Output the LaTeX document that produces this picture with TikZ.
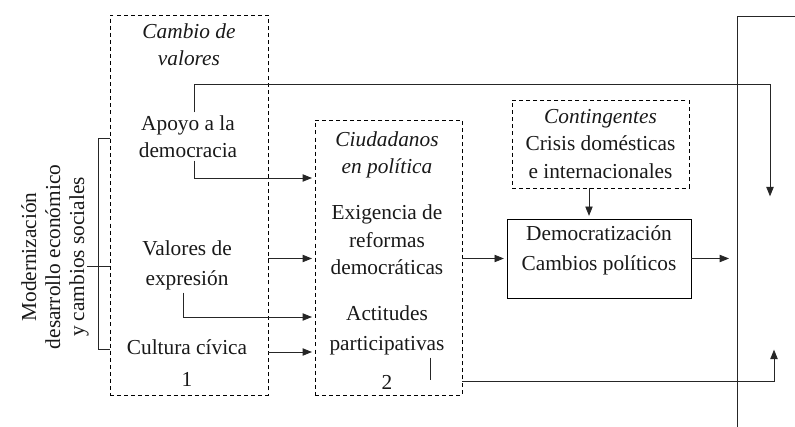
\documentclass[tikz,border=0pt]{standalone}
\usepackage{fontspec}
\setmainfont{Liberation Serif}
\usetikzlibrary{arrows.meta,positioning}

\begin{document}
\begin{tikzpicture}[x=0.75pt,y=0.75pt,yscale=-1,xscale=1,
  txt/.style={align=center,font=\fontsize{16}{20.5}\selectfont,inner sep=2pt,text=black!90},
  dashbox/.style={draw,dash pattern={on 3pt off 2.3pt},line width=0.6pt},
  solidbox/.style={draw,line width=0.7pt},
  conn/.style={line width=0.6pt,color=black!85},
  arr/.style={conn,shorten >=2pt,-{Triangle[length=7pt,width=5.5pt]}}]
\useasboundingbox (0,0) rectangle (795,427);

%Shape: dashed boxes
\node [dashbox,minimum width=118.5pt,minimum height=285pt] (cambio) at (189,205) {};
\node [dashbox,minimum width=110.25pt,minimum height=206.25pt] (ciudad) at (388.5,257.5) {};
%Shape: Contingentes
\node [dashbox,txt,minimum width=132.75pt,minimum height=66pt] (conting) at (600.5,144)
  {\textit{Contingentes}\\Crisis domésticas\\e internacionales};
%Shape: Democratizacion box
\node [solidbox,minimum width=138pt,minimum height=59.25pt] (demo) at (599,258.5) {};

% Text Node
\node [txt] (cambiotit) at (189,45) {\textit{Cambio de}\\\textit{valores}};
% Text Node
\node [txt] (apoyo) at (188,136.5) {Apoyo a la\\democracia};
% Text Node
\node [txt] (valores) at (187,265) {Valores de\\[2pt]expresión};
% Text Node
\node [txt] (cultura) at (187,363) {Cultura cívica\\[3pt]1};
% Text Node
\node [txt] (ciudtit) at (387,155) {\textit{Ciudadanos}\\\textit{en política}};
% Text Node
\node [txt] (exig) at (387,240) {Exigencia de\\reformas\\democráticas};
% Text Node
\node [txt] (actit) at (387,330) {Actitudes\\[2pt]participativas};
% Text Node
\node [txt] (num2) at (387,382) {2};
% Text Node
\node [txt] (demotxt) at (599,250) {Democratización\\[2pt]Cambios políticos};
% Text Node
\node [txt,font=\fontsize{16}{18}\selectfont,rotate=90] (moder) at (55,257)
  {Modernización\\desarrollo económico\\y cambios sociales};

%Coordinates for the free ends
\coordinate (inA) at (770,199);
\coordinate (inB) at (774,347);
\coordinate (bartop) at (737,16);
\coordinate (barbot) at (737,427);

%Straight Lines: bracket
\draw [conn] (cambio.west |- 0,138) -- (98,138) -- (98,349) -- (cambio.west |- 0,349);
\draw [conn] (87,266) -- (cambio.west |- 0,266);

%Straight Lines: from Cambio de valores
\draw [arr] (apoyo.north -| 194,0) |- (inA |- 0,84) -- (inA);
\draw [arr] (apoyo.south -| 194,0) |- (ciudad.west |- 0,178);
\draw [arr] (cambio.east |- demo) -- (ciudad.west |- demo);
\draw [arr] (valores.south -| 183,0) |- (ciudad.west |- 0,317);
\draw [arr] (cambio.east |- 0,352) -- (ciudad.west |- 0,352);

%Straight Lines: from Ciudadanos en politica
\draw [conn] (actit.south -| 430,0) -- (430,380);
\draw [arr] (ciudad.east |- 0,381) -| (inB);
\draw [arr] (ciudad.east |- demo) -- (demo.west);

%Straight Lines: into and out of Democratizacion
\draw [arr] (conting.south -| 589,0) -- (demo.north -| 589,0);
\draw [arr] (demo.east) -- ([xshift=-4pt]bartop |- demo);

%Straight Lines: right bar
\draw [conn] (795,16) -- (bartop) -- (barbot);

\end{tikzpicture}
\end{document}
